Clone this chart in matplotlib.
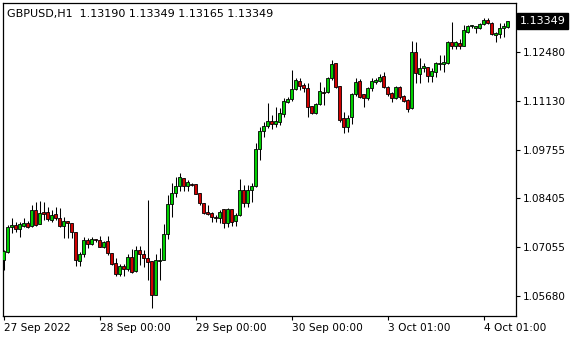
import matplotlib
matplotlib.use('Agg')
import matplotlib.pyplot as plt
import numpy as np

# GBPUSD H1 candles, 27 Sep 2022 00:00 -> 4 Oct 2022 06:00
opens = [1.06685, 1.06908, 1.07606, 1.07662, 1.07550, 1.07634, 1.07717, 1.07634, 1.08080, 1.07689,
         1.08024, 1.08024, 1.07801, 1.07968, 1.07857, 1.07634, 1.07773, 1.07717, 1.07466, 1.06657,
         1.06852, 1.07243, 1.07131, 1.07271, 1.07243, 1.07048, 1.07215, 1.06880, 1.06601, 1.06294,
         1.06518, 1.06434, 1.06769, 1.06378, 1.06964, 1.06852, 1.06741, 1.06657, 1.05709, 1.06657,
         1.06685, 1.07410, 1.08247, 1.08554, 1.08750, 1.08973, 1.08750, 1.08805, 1.08805, 1.08554,
         1.08275, 1.08024, 1.07996, 1.07885, 1.07857, 1.08108, 1.07717, 1.08108, 1.07773, 1.07941,
         1.08638, 1.08275, 1.08638, 1.08750, 1.09782, 1.10284, 1.10424, 1.10563, 1.10479, 1.10535,
         1.10758, 1.11093, 1.11177, 1.11456, 1.11679, 1.11568, 1.11484, 1.10982, 1.10786, 1.11037,
         1.11372, 1.11372, 1.11763, 1.12181, 1.11540, 1.10647, 1.10396, 1.10675, 1.11316, 1.11679,
         1.11316, 1.11205, 1.11484, 1.11651, 1.11679, 1.11819, 1.11512, 1.11344, 1.11205, 1.11512,
         1.11261, 1.11149, 1.10926, 1.12488, 1.11874, 1.12042, 1.12070, 1.11819, 1.11930, 1.12160,
         1.12153, 1.12181, 1.12767, 1.12656, 1.12739, 1.12656, 1.13046, 1.13214, 1.13158, 1.13158,
         1.13269, 1.13381, 1.13297, 1.12963, 1.12990, 1.13158, 1.13190]
highs = [1.06964, 1.07662, 1.07857, 1.07745, 1.07745, 1.07857, 1.07773, 1.08220, 1.08303, 1.08331,
         1.08303, 1.08164, 1.08080, 1.08164, 1.08136, 1.07885, 1.07773, 1.07717, 1.07466, 1.06908,
         1.07327, 1.07299, 1.07327, 1.07271, 1.07355, 1.07215, 1.07355, 1.06880, 1.06741, 1.06573,
         1.06573, 1.06852, 1.06992, 1.07076, 1.07076, 1.06964, 1.08359, 1.06657, 1.06852, 1.07020,
         1.07689, 1.08499, 1.08833, 1.09001, 1.09112, 1.08973, 1.08917, 1.08833, 1.08805, 1.08554,
         1.08275, 1.08220, 1.08024, 1.07941, 1.08080, 1.08108, 1.08136, 1.08108, 1.07996, 1.08945,
         1.08778, 1.08778, 1.08833, 1.09949, 1.10396, 1.10535, 1.11065, 1.10731, 1.10954, 1.10926,
         1.11205, 1.11233, 1.11986, 1.11763, 1.11763, 1.11623, 1.11623, 1.10982, 1.11065, 1.11651,
         1.11512, 1.11791, 1.12265, 1.12181, 1.11540, 1.10814, 1.10731, 1.11344, 1.11763, 1.11735,
         1.11316, 1.11512, 1.11763, 1.11763, 1.11874, 1.11930, 1.11540, 1.11372, 1.11540, 1.11540,
         1.11289, 1.11177, 1.12795, 1.12767, 1.12321, 1.12181, 1.12070, 1.12042, 1.12209, 1.12405,
         1.12405, 1.12795, 1.13325, 1.12795, 1.12851, 1.13242, 1.13242, 1.13242, 1.13214, 1.13297,
         1.13437, 1.13437, 1.13325, 1.13046, 1.13297, 1.13297, 1.13349]
lows = [1.06406, 1.06880, 1.07438, 1.07466, 1.07327, 1.07606, 1.07578, 1.07606, 1.07634, 1.07689,
        1.07801, 1.07773, 1.07745, 1.07801, 1.07606, 1.07299, 1.07299, 1.07299, 1.06518, 1.06518,
        1.06769, 1.07020, 1.07103, 1.07187, 1.07048, 1.07020, 1.06825, 1.06546, 1.06239, 1.06239,
        1.06239, 1.06378, 1.06322, 1.06350, 1.06546, 1.06490, 1.06127, 1.05346, 1.05709, 1.06127,
        1.06685, 1.07271, 1.07885, 1.08443, 1.08610, 1.08610, 1.08610, 1.08750, 1.08526, 1.08220,
        1.07968, 1.07941, 1.07745, 1.07745, 1.07717, 1.07578, 1.07606, 1.07634, 1.07634, 1.07913,
        1.08164, 1.08164, 1.08303, 1.08722, 1.09475, 1.10117, 1.10368, 1.10340, 1.10396, 1.10452,
        1.10675, 1.11065, 1.11121, 1.11428, 1.11428, 1.11372, 1.10675, 1.10758, 1.10758, 1.11010,
        1.11010, 1.11344, 1.11707, 1.11484, 1.10535, 1.10228, 1.10256, 1.10479, 1.11261, 1.11205,
        1.10954, 1.11149, 1.11400, 1.11595, 1.11651, 1.11484, 1.11261, 1.11093, 1.11177, 1.11177,
        1.11093, 1.10814, 1.10898, 1.11623, 1.11623, 1.11930, 1.11651, 1.11651, 1.11791, 1.11986,
        1.11930, 1.12153, 1.12572, 1.12572, 1.12572, 1.12656, 1.13018, 1.13158, 1.13018, 1.13130,
        1.13242, 1.13269, 1.12963, 1.12767, 1.12879, 1.12907, 1.13165]
closes = [1.06936, 1.07606, 1.07662, 1.07550, 1.07689, 1.07717, 1.07606, 1.08080, 1.07662, 1.07996,
          1.07968, 1.07829, 1.07941, 1.07857, 1.07634, 1.07773, 1.07717, 1.07466, 1.06685, 1.06852,
          1.07243, 1.07131, 1.07271, 1.07257, 1.07048, 1.07187, 1.06880, 1.06573, 1.06294, 1.06518,
          1.06434, 1.06769, 1.06350, 1.06964, 1.06852, 1.06741, 1.06629, 1.05709, 1.06685, 1.06685,
          1.07410, 1.08247, 1.08554, 1.08750, 1.09001, 1.08750, 1.08861, 1.08778, 1.08526, 1.08275,
          1.07996, 1.07968, 1.07885, 1.07857, 1.08024, 1.07717, 1.08108, 1.07745, 1.07941, 1.08638,
          1.08275, 1.08638, 1.08750, 1.09782, 1.10284, 1.10424, 1.10563, 1.10479, 1.10563, 1.10786,
          1.11121, 1.11177, 1.11456, 1.11707, 1.11540, 1.11484, 1.10954, 1.10786, 1.11037, 1.11400,
          1.11344, 1.11763, 1.12153, 1.11512, 1.10591, 1.10396, 1.10647, 1.11316, 1.11651, 1.11233,
          1.11205, 1.11484, 1.11679, 1.11707, 1.11791, 1.11512, 1.11316, 1.11205, 1.11512, 1.11233,
          1.11121, 1.10898, 1.12488, 1.11902, 1.12042, 1.12098, 1.11819, 1.11958, 1.12181, 1.12181,
          1.12209, 1.12767, 1.12656, 1.12767, 1.12656, 1.13102, 1.13214, 1.13230, 1.13214, 1.13269,
          1.13381, 1.13297, 1.12990, 1.13018, 1.13158, 1.13214, 1.13349]

price_ticks = [1.12480, 1.11130, 1.09755, 1.08405, 1.07055, 1.05680]
date_pos = [0, 24, 48, 72, 96, 120]
date_labels = ['27 Sep 2022', '28 Sep 00:00', '29 Sep 00:00', '30 Sep 00:00',
               '3 Oct 01:00', '4 Oct 01:00']
header = 'GBPUSD,H1  1.13190 1.13349 1.13165 1.13349'
last_price = 1.13349

o = np.array(opens)
h = np.array(highs)
l = np.array(lows)
c = np.array(closes)
x = np.arange(len(o))

fig = plt.figure(figsize=(5.8, 3.4), dpi=100)
ax = fig.add_axes([2.7/580, 24/340, 513.3/580, 313.3/340])

up = c >= o
body_lo = np.minimum(o, c)
body_h = np.maximum(np.abs(c - o), 0.00002)

ax.vlines(x, l, h, color='black', linewidth=0.75, zorder=2)
ax.bar(x, body_h, bottom=body_lo, width=0.55,
       color=np.where(up, '#00d000', '#d00000'),
       edgecolor='black', linewidth=0.6, zorder=3)

ax.set_xlim(-0.2, 128.1)
ax.set_ylim(1.05123, 1.13864)

ax.yaxis.tick_right()
ax.set_yticks(price_ticks)
ax.set_yticklabels(['%.5f' % p for p in price_ticks], fontsize=7.5)
ax.set_xticks(date_pos)
ax.set_xticklabels(date_labels, fontsize=7.6)
for t in ax.get_xticklabels():
    t.set_ha('left')
ax.tick_params(axis='both', direction='out', length=3, width=0.8, color='black', pad=2)

for s in ax.spines.values():
    s.set_color('black')
    s.set_linewidth(0.9)

ax.text(0.009, 0.965, header, transform=ax.transAxes, fontsize=8, va='center', ha='left')

ax.annotate('%.5f' % last_price, xy=(1, last_price), xycoords=('axes fraction', 'data'),
            xytext=(2.5, 0), textcoords='offset points', fontsize=8, color='white',
            va='center', ha='left',
            bbox=dict(boxstyle='square,pad=0.25', fc='black', ec='black'))

plt.savefig('out.png', dpi=100)
